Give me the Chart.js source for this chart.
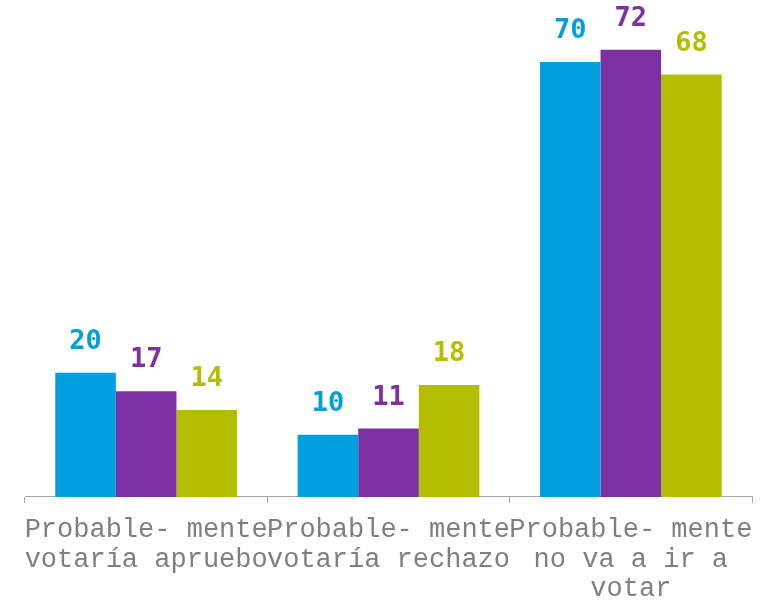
<!DOCTYPE html>
<html>
<head>
<meta charset="utf-8">
<script src="https://cdn.jsdelivr.net/npm/chart.js@4/dist/chart.umd.min.js"></script>
<style>
  html, body { margin: 0; padding: 0; background: #fff; }
  #wrap { width: 780px; height: 600px; }
</style>
</head>
<body>
<div id="wrap"><canvas id="myChart" width="780" height="600"></canvas></div>
<script>
const categories = [
    ["Probable- mente", "votaría apruebo"],
    ["Probable- mente", "votaría rechazo"],
    ["Probable- mente", "no va a ir a", "votar"]
];
const serieA = [20, 10, 70];
const serieB = [17, 11, 72];
const serieC = [14, 18, 68];
const colors = ["#00A0E0", "#7D30A3", "#B4BE00"];

// draws the value above each bar, in the bar's colour
const valueLabels = {
    id: "valueLabels",
    afterDatasetsDraw(chart) {
        const ctx = chart.ctx;
        ctx.save();
        ctx.font = "bold 27px 'DejaVu Sans Mono'";
        ctx.textAlign = "center";
        ctx.textBaseline = "middle";
        chart.data.datasets.forEach((ds, i) => {
            const meta = chart.getDatasetMeta(i);
            meta.data.forEach((bar, j) => {
                ctx.fillStyle = ds.backgroundColor;
                ctx.fillText(ds.data[j], bar.x, bar.y - 31);
            });
        });
        ctx.restore();
    }
};

const ctx = document.getElementById("myChart").getContext("2d");
new Chart(ctx, {
    type: "bar",
    data: {
        labels: categories,
        datasets: [
            {label: "A", data: serieA, backgroundColor: colors[0]},
            {label: "B", data: serieB, backgroundColor: colors[1]},
            {label: "C", data: serieC, backgroundColor: colors[2]}
        ]
    },
    options: {
        responsive: false,
        animation: false,
        categoryPercentage: 0.75,
        barPercentage: 1.0,
        layout: {
            padding: {top: 0, bottom: -16, left: 25, right: 28}
        },
        plugins: {
            legend: {display: false},
            tooltip: {enabled: false}
        },
        scales: {
            y: {
                display: false,
                min: 0,
                max: 80
            },
            x: {
                grid: {
                    offset: true,
                    drawOnChartArea: false,
                    drawTicks: true,
                    tickLength: 6,
                    color: "#a6a6a6"
                },
                border: {display: true, color: "#a6a6a6"},
                ticks: {
                    color: "#7f7f7f",
                    padding: 12,
                    maxRotation: 0,
                    autoSkip: false,
                    font: {family: "'Liberation Mono'", size: 27, lineHeight: 1.1}
                }
            }
        }
    },
    plugins: [valueLabels]
});
</script>
</body>
</html>
